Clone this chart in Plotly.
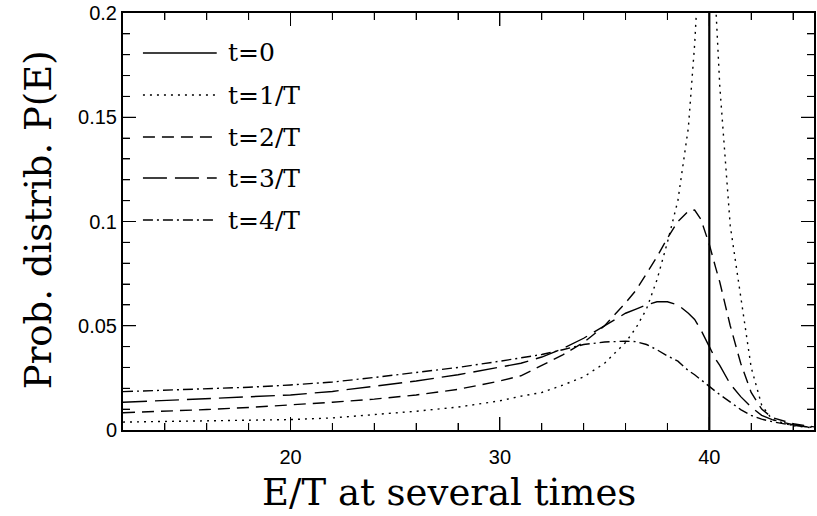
import plotly.graph_objects as go

# ---- data ----
E = [12, 14, 16, 18, 20, 22, 24, 26, 28, 30, 31, 32, 33, 34, 35, 36, 36.5, 37, 37.5,
     38, 38.5, 39, 39.3, 39.6, 40, 40.3, 40.5, 41, 41.5, 42, 42.5, 43, 44, 45]

p_t1 = [0.0038, 0.0041, 0.0044, 0.0046, 0.0050, 0.0058, 0.0074, 0.0090, 0.0110, 0.0140,
        0.0162, 0.0180, 0.0215, 0.0255, 0.0320, 0.0420, 0.0490, 0.0580, 0.0720,
        0.0900, 0.1100, 0.1450, 0.1850, 0.2400, 0.2800, 0.2050, 0.1650, 0.0980, 0.0640,
        0.0300, 0.0120, 0.0050, 0.0020, 0.0010]

p_t2 = [0.0083, 0.0090, 0.0098, 0.0108, 0.0120, 0.0133, 0.0148, 0.0168, 0.0195, 0.0235,
        0.0260, 0.0310, 0.0360, 0.0420, 0.0500, 0.0610, 0.0670, 0.0750, 0.0830,
        0.0920, 0.1000, 0.1050, 0.1055, 0.1010, 0.0890, 0.0780, 0.0710, 0.0500, 0.0320,
        0.0180, 0.0100, 0.0060, 0.0030, 0.0015]

p_t3 = [0.0133, 0.0142, 0.0150, 0.0158, 0.0168, 0.0185, 0.0210, 0.0235, 0.0265, 0.0300,
        0.0320, 0.0350, 0.0390, 0.0440, 0.0500, 0.0560, 0.0580, 0.0600, 0.0615,
        0.0615, 0.0600, 0.0560, 0.0530, 0.0480, 0.0400, 0.0340, 0.0310, 0.0220, 0.0160,
        0.0110, 0.0070, 0.0050, 0.0025, 0.0010]

p_t4 = [0.0184, 0.0190, 0.0197, 0.0205, 0.0216, 0.0230, 0.0252, 0.0275, 0.0300, 0.0330,
        0.0345, 0.0362, 0.0385, 0.0410, 0.0422, 0.0426, 0.0424, 0.0410, 0.0385,
        0.0355, 0.0330, 0.0285, 0.0265, 0.0240, 0.0210, 0.0185, 0.0170, 0.0135, 0.0098,
        0.0070, 0.0052, 0.0040, 0.0022, 0.0012]

# t = 0: delta peak at E/T = 40
E_t0 = [40, 40]
p_t0 = [0.0, 1.0]

labels = ["t=0", "t=1/T", "t=2/T", "t=3/T", "t=4/T"]
dashes = ["solid", "2px,5px", "12px,7px", "24px,8px", "10px,4px,2px,4px"]

x_major = [20, 30, 40]
x_minor = [v for v in range(14, 46, 2) if v not in x_major]
y_major = [0.05, 0.1, 0.15]
y_minor = [k / 100 for k in range(1, 20) if k % 5 != 0]

# ---- figure ----
fig = go.Figure()
fig.add_trace(go.Scatter(x=E_t0, y=p_t0, mode="lines",
                         line=dict(color="black", width=2.2, dash=dashes[0]),
                         showlegend=False))
for ys, d in zip([p_t1, p_t2, p_t3, p_t4], dashes[1:]):
    fig.add_trace(go.Scatter(x=E, y=ys, mode="lines",
                             line=dict(color="black", width=1.4, dash=d),
                             showlegend=False))

L, R, T, B = 123, 816, 13, 430
W, H = 817, 516
PW, PH = R - L, B - T

def px2paper(px, py):
    return (px - L) / PW, (B - py) / PH

# tick marks on all four sides (major 13 px, minor 7 px), placed on the axes' scales
for vals, ln in ((x_major, 13), (x_minor, 7)):
    for v in vals:
        for y0, y1 in ((0, ln / PH), (1, 1 - ln / PH)):
            fig.add_shape(type="line", xref="x", yref="paper", x0=v, x1=v, y0=y0, y1=y1,
                          line=dict(color="black", width=1))
for vals, ln in ((y_major, 13), (y_minor, 7)):
    for v in vals:
        for x0, x1 in ((0, ln / PW), (1, 1 - ln / PW)):
            fig.add_shape(type="line", xref="paper", yref="y", x0=x0, x1=x1, y0=v, y1=v,
                          line=dict(color="black", width=1))

# manual legend in the top-left corner
rows = [53, 95, 137, 178, 220]
for lab, d, ry in zip(labels, dashes, rows):
    x0, y0 = px2paper(143, ry)
    x1, _ = px2paper(217, ry)
    fig.add_shape(type="line", xref="paper", yref="paper", x0=x0, x1=x1, y0=y0, y1=y0,
                  line=dict(color="black", width=1.4, dash=d))
    tx, _ = px2paper(226, ry)
    fig.add_annotation(xref="paper", yref="paper", x=tx, y=y0, text=lab, showarrow=False,
                       xanchor="left", yanchor="middle",
                       font=dict(family="DejaVu Serif", size=25, color="black"))

# axis titles
fig.add_annotation(xref="paper", yref="paper", x=px2paper(450, 0)[0], y=px2paper(0, 492)[1],
                   text="E/T at several times", showarrow=False, xanchor="center",
                   yanchor="middle", font=dict(family="DejaVu Serif", size=37, color="black"))
fig.add_annotation(xref="paper", yref="paper", x=px2paper(38, 0)[0], y=px2paper(0, 220)[1],
                   text="Prob. distrib. P(E)", showarrow=False, textangle=-90,
                   xanchor="center", yanchor="middle",
                   font=dict(family="DejaVu Serif", size=37, color="black"))

tick_font = dict(family="Liberation Sans", size=20, color="black")

fig.update_xaxes(range=[12, 45], showline=True, linecolor="black", linewidth=2, mirror="allticks",
                 ticks="inside", ticklen=13, tickwidth=1, tickcolor="black", dtick=10,
                 tickfont=tick_font, ticklabelstandoff=8,
                 minor=dict(ticks="inside", dtick=2, ticklen=7, tickcolor="black"))
fig.update_yaxes(range=[0, 0.2], showline=True, linecolor="black", linewidth=2, mirror="allticks",
                 ticks="inside", ticklen=13, tickwidth=1, tickcolor="black", dtick=0.05,
                 tickfont=tick_font,
                 minor=dict(ticks="inside", dtick=0.01, ticklen=7, tickcolor="black"))

fig.update_layout(width=W, height=H, plot_bgcolor="white",
                  margin=dict(l=L, r=W - R, t=T, b=H - B), showlegend=False)

fig.write_html("out.html")
